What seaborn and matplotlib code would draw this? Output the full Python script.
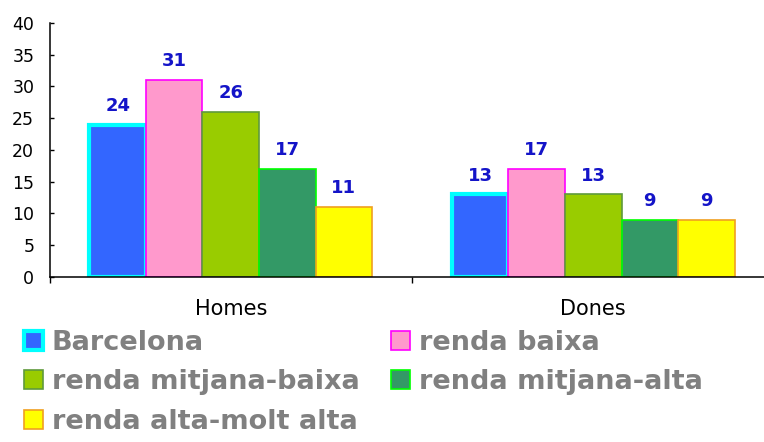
import matplotlib
matplotlib.use("Agg")
import matplotlib.pyplot as plt
from matplotlib.patches import Patch
import seaborn as sns
import pandas as pd

# Data
groups = ["Homes", "Dones"]
series = ["Barcelona", "renda baixa", "renda mitjana-baixa",
          "renda mitjana-alta", "renda alta-molt alta"]
homes = [24, 31, 26, 17, 11]
dones = [13, 17, 13, 9, 9]

face_colors = ["#3366ff", "#ff99cc", "#99cc00", "#339966", "#ffff00"]
edge_colors = ["#00ffff", "#ff00ff", "#5f9a3c", "#00ff00", "#f0a020"]
edge_widths = [3.0, 1.2, 1.2, 1.2, 1.2]

df = pd.DataFrame({
    "group": [g for g in groups for _ in series],
    "series": series * len(groups),
    "value": homes + dones,
})

sns.set_style("white")
plt.rcParams["font.family"] = ["DejaVu Sans"]

fig = plt.figure(figsize=(7.64, 4.42), dpi=100)
ax = fig.add_axes([0.0648, 0.3733, 0.949, 0.5747])

sns.barplot(data=df, x="group", y="value", hue="series", order=groups,
            hue_order=series, palette=dict(zip(series, face_colors)),
            width=0.78, saturation=1, legend=False, ax=ax)

for cont, ec, lw in zip(ax.containers, edge_colors, edge_widths):
    for bar in cont:
        bar.set_edgecolor(ec)
        bar.set_linewidth(lw)
    ax.bar_label(cont, fmt="%d", padding=7, fontsize=13, fontweight="bold",
                 color="#1414c8")

ax.set_ylim(0, 40)
ax.set_xlim(-0.5, 1.5)
ax.set_yticks(range(0, 41, 5))
ax.set_xlabel("")
ax.set_ylabel("")

for s in ["top", "right"]:
    ax.spines[s].set_visible(False)
for s in ["left", "bottom"]:
    ax.spines[s].set_color("black")
    ax.spines[s].set_linewidth(1.1)

ax.tick_params(axis="y", direction="in", length=3, width=1, labelsize=12.5,
               pad=11, left=True, colors="black")
ax.set_xticks([-0.5, 0.5, 1.5], minor=True)
ax.tick_params(axis="x", which="major", length=0, labelsize=15, pad=16,
               labelcolor="black")
ax.tick_params(axis="x", which="minor", direction="out", length=4, width=1,
               bottom=True, color="black")

handles = [Patch(facecolor=fc, edgecolor=ec, linewidth=lw)
           for fc, ec, lw in zip(face_colors, edge_colors, edge_widths)]
order = [0, 2, 4, 1, 3]
fig.legend([handles[i] for i in order], [series[i] for i in order],
           loc="upper left", bbox_to_anchor=(0.031, 0.254), ncol=2,
           frameon=False, borderpad=0, borderaxespad=0,
           prop={"size": 19.5, "weight": "bold"}, labelcolor="#808080",
           handlelength=0.72, handleheight=0.72, handletextpad=0.32,
           labelspacing=0.5, columnspacing=1.15)

fig.savefig("out.png", dpi=100)
